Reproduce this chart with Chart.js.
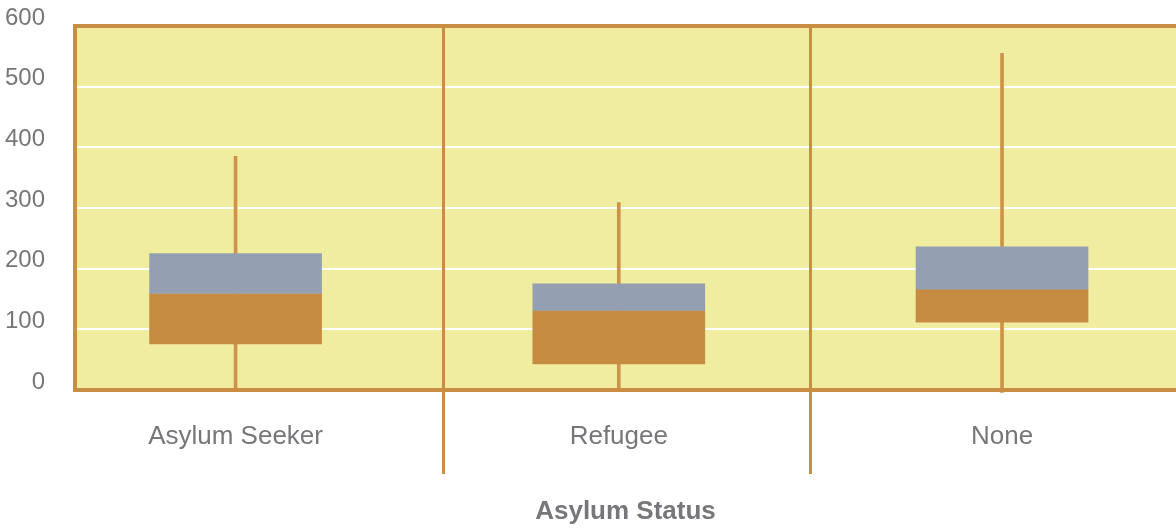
<!DOCTYPE html>
<html>
<head>
<meta charset="utf-8">
<script src="https://cdn.jsdelivr.net/npm/chart.js@4/dist/chart.umd.min.js"></script>
<style>
  body { margin: 0; background: #fff; }
  #wrap { position: relative; width: 1176px; height: 529px; }
</style>
</head>
<body>
<div id="wrap"><canvas id="box-chart"></canvas></div>
<script>
// box plot values per asylum status
const categories = ["Asylum Seeker", "Refugee", "None"];
const positions = [0, 1, 2];
const mins = [3, 2, -4];
const q1s = [76, 43, 112];
const medians = [159, 131, 166];
const q3s = [225, 175, 236];
const maxs = [385, 309, 555];
const yTicks = [0, 100, 200, 300, 400, 500, 600];
const separators = [0.54, 1.5];

const plotBg = "#F0ECA0";
const frameColor = "#C98D44";
const boxOrange = "#C68C41";
const boxGray = "#94A0B1";
const textGray = "#76777A";

const pairs = (lo, hi) => positions.map((p, i) => ({ x: p, y: [lo[i], hi[i]] }));

// yellow plot area, category separators and the orange frame
const framePlugin = {
  id: "frame",
  beforeDraw(chart) {
    const { ctx, chartArea: a } = chart;
    ctx.save();
    ctx.fillStyle = plotBg;
    ctx.fillRect(a.left, a.top, a.right - a.left, a.bottom - a.top);
    ctx.restore();
  },
  beforeDatasetsDraw(chart) {
    const { ctx, chartArea: a, scales } = chart;
    ctx.save();
    ctx.strokeStyle = frameColor;
    ctx.lineWidth = 3;
    separators.forEach((s) => {
      const x = Math.round(scales.x.getPixelForValue(s)) + 0.5;
      ctx.beginPath();
      ctx.moveTo(x, a.top);
      ctx.lineTo(x, a.bottom + 84);
      ctx.stroke();
    });
    ctx.restore();
  },
  afterDatasetsDraw(chart) {
    const { ctx, chartArea: a } = chart;
    ctx.save();
    ctx.strokeStyle = frameColor;
    ctx.lineWidth = 4;
    ctx.beginPath();
    ctx.moveTo(a.right + 2, a.top);
    ctx.lineTo(a.left, a.top);
    ctx.lineTo(a.left, a.bottom);
    ctx.lineTo(a.right + 2, a.bottom);
    ctx.stroke();
    ctx.restore();
  },
};

let config = {
  type: "bar",
  data: {
    datasets: [
      {
        label: "median-Q3",
        data: pairs(medians, q3s),
        backgroundColor: boxGray,
        barThickness: 172,
        grouped: false,
      },
      {
        label: "Q1-median",
        data: pairs(q1s, medians),
        backgroundColor: boxOrange,
        barThickness: 172,
        grouped: false,
      },
      {
        label: "whisker",
        data: pairs(mins, maxs),
        backgroundColor: "#CD9348",
        barThickness: 3,
        grouped: false,
        clip: false,
      },
    ],
  },
  options: {
    responsive: true,
    maintainAspectRatio: false,
    animation: false,
    layout: { padding: { top: 26, right: 0, left: 0, bottom: 0 } },
    plugins: { legend: { display: false }, tooltip: { enabled: false } },
    scales: {
      x: {
        type: "linear",
        offset: false,
        min: -0.419,
        max: 2.454,
        grid: { display: false, drawTicks: false },
        border: { display: false },
        afterBuildTicks: (scale) => {
          scale.ticks = positions.map((p) => ({ value: p }));
        },
        afterFit: (scale) => {
          scale.height = 139;
          scale.paddingLeft = 0;
          scale.paddingRight = 0;
        },
        ticks: {
          padding: 31,
          color: textGray,
          font: { family: "Liberation Sans", size: 26, lineHeight: 1.2 },
          callback: (v) => categories[positions.indexOf(v)],
          maxRotation: 0,
          autoSkip: false,
        },
        title: {
          display: true,
          text: "Asylum Status",
          color: textGray,
          font: { family: "Liberation Sans", size: 26, weight: "bold", lineHeight: 1.2 },
          padding: { top: 44, bottom: 2 },
        },
      },
      y: {
        min: 0,
        max: 600,
        afterBuildTicks: (scale) => {
          scale.ticks = yTicks.map((v) => ({ value: v }));
        },
        afterFit: (scale) => {
          scale.width = 75;
          scale.paddingTop = 0;
          scale.paddingBottom = 0;
        },
        border: { display: false },
        grid: {
          drawTicks: false,
          lineWidth: 2,
          color: (c) => (c.tick && (c.tick.value === 0 || c.tick.value === 600) ? "rgba(0,0,0,0)" : "#FFFFFF"),
        },
        ticks: {
          padding: 30,
          labelOffset: -8,
          color: textGray,
          font: { family: "Liberation Sans", size: 24 },
        },
      },
    },
  },
  plugins: [framePlugin],
};

let ctx = document.getElementById("box-chart").getContext("2d");
window.myBox = new Chart(ctx, config);
</script>
</body>
</html>
